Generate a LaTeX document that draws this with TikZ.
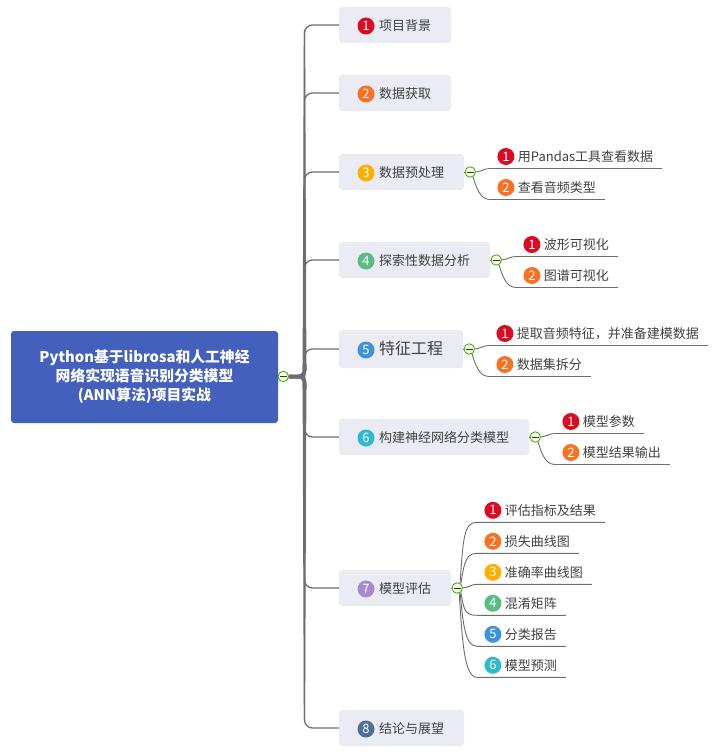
\documentclass[tikz,border=0pt]{standalone}
\usepackage{fontspec}
\setmainfont{Noto Sans CJK SC}
\usetikzlibrary{positioning}
\definecolor{rootblue}{HTML}{4360BC}
\definecolor{boxgray}{HTML}{EAEBF3}
\definecolor{inkgray}{HTML}{404040}
\definecolor{linegray}{HTML}{6E6E6E}
\definecolor{badgered}{HTML}{DA0B22}
\definecolor{badgeorange}{HTML}{F97122}
\definecolor{badgeamber}{HTML}{FFAE00}
\definecolor{badgegreen}{HTML}{59BC83}
\definecolor{badgeblue}{HTML}{3B94D8}
\definecolor{badgecyan}{HTML}{2DB9CE}
\definecolor{badgepurple}{HTML}{A58CCF}
\definecolor{badgeslate}{HTML}{4F7096}
\tikzstyle{rootbox}=[rectangle, rounded corners=3pt, fill=rootblue, text=white, align=center,
        minimum width=267pt, minimum height=92pt, font=\fontsize{14.8}{19}\selectfont\bfseries]
\tikzstyle{topic}=[rectangle, rounded corners=3pt, fill=boxgray, text=inkgray, anchor=north west, outer sep=0pt,
        minimum height=36pt, inner ysep=0pt, inner xsep=0pt, align=left, text height=12pt, text depth=1pt,
        font=\fontsize{13}{16}\selectfont]
\tikzstyle{subtopic}=[rectangle, text=inkgray, minimum height=24pt, inner ysep=0pt, inner xsep=0pt, outer sep=0pt,
        font=\fontsize{13}{16}\selectfont]
\tikzstyle{badge}=[circle, inner sep=0pt, minimum size=17pt, text=white, font=\fontsize{13}{13}\selectfont]
\tikzstyle{toggle}=[circle, draw=green!50!black!70!lime, line width=0.8pt, fill=green!10!yellow!8!white, inner sep=0pt,
        minimum size=10.5pt, path picture={\draw[green!35!black, line width=0.9pt]
        ([xshift=1.5pt]path picture bounding box.west) -- ([xshift=-1.5pt]path picture bounding box.east);}]
\tikzstyle{branch}=[draw=linegray, line width=1.3pt, rounded corners=8pt]
\tikzstyle{twig}=[draw=linegray, line width=0.9pt]
\tikzstyle{hubline}=[draw=linegray, line width=4pt, rounded corners=6pt]

\begin{document}
\begin{tikzpicture}[x=1pt, y=-1pt]
        \useasboundingbox (0,0) rectangle (720,754);

        % root and its joint
        \node (root) [rootbox] at (144.5,377)
        {
          Python基于librosa和人工神经\\
          网络实现语音识别分类模型\\
          (ANN算法)项目实战
        };
        \node (rootc) [toggle] at (283.3,376.5) {};
        \coordinate (hub) at (304.5,376.5);
        \coordinate (hubup) at (304.5,364);
        \coordinate (hubdown) at (304.5,389);

        % main topics
        \node (t1) [topic, text width=112pt] at (339,7) {\hspace*{40pt}项目背景};
        \node (t2) [topic, text width=112pt, below=32pt of t1.south west, anchor=north west] {\hspace*{40pt}数据获取};
        \node (t3) [topic, text width=125pt, below=43pt of t2.south west, anchor=north west] {\hspace*{40pt}数据预处理};
        \node (t4) [topic, text width=151pt, below=52pt of t3.south west, anchor=north west] {\hspace*{40pt}探索性数据分析};
        \node (t5) [topic, text width=124pt, below=52pt of t4.south west, anchor=north west, minimum height=38pt,
          font=\fontsize{16}{19}\selectfont] {\hspace*{40pt}特征工程};
        \node (t6) [topic, text width=190pt, below=51pt of t5.south west, anchor=north west] {\hspace*{40pt}构建神经网络分类模型};
        \node (t7) [topic, text width=112pt, below=115pt of t6.south west, anchor=north west] {\hspace*{40pt}模型评估};
        \node (t8) [topic, text width=125pt, below=104pt of t7.south west, anchor=north west] {\hspace*{40pt}结论与展望};

        \node (b1) [badge, fill=badgered] at ([xshift=27pt,yshift=-1pt]t1.west) {1};
        \node (b2) [badge, fill=badgeorange] at ([xshift=27pt,yshift=-1pt]t2.west) {2};
        \node (b3) [badge, fill=badgeamber] at ([xshift=27pt,yshift=-1pt]t3.west) {3};
        \node (b4) [badge, fill=badgegreen] at ([xshift=27pt,yshift=-1pt]t4.west) {4};
        \node (b5) [badge, fill=badgeblue] at ([xshift=27pt,yshift=-1pt]t5.west) {5};
        \node (b6) [badge, fill=badgecyan] at ([xshift=27pt,yshift=-1pt]t6.west) {6};
        \node (b7) [badge, fill=badgepurple] at ([xshift=27pt,yshift=-1pt]t7.west) {7};
        \node (b8) [badge, fill=badgeslate] at ([xshift=27pt,yshift=-1pt]t8.west) {8};

        % joints of the topics that have children
        \node (c3) [toggle, right=0.6pt of t3.east, anchor=west] {};
        \node (c4) [toggle, right=0.6pt of t4.east, anchor=west] {};
        \node (c5) [toggle, right=0.6pt of t5.east, anchor=west] {};
        \node (c6) [toggle, right=0.6pt of t6.east, anchor=west] {};
        \node (c7) [toggle, right=0.6pt of t7.east, anchor=west] {};

        % children
        \node (s31) [subtopic, right=14pt of c3.east, anchor=south west, yshift=3.5pt] {\hspace*{28pt}用Pandas工具查看数据\hspace*{9pt}};
        \node (s32) [subtopic, below=31pt of s31.south west, anchor=south west] {\hspace*{28pt}查看音频类型\hspace*{9pt}};
        \node (s41) [subtopic, right=14pt of c4.east, anchor=south west, yshift=3.5pt] {\hspace*{28pt}波形可视化\hspace*{9pt}};
        \node (s42) [subtopic, below=31pt of s41.south west, anchor=south west] {\hspace*{28pt}图谱可视化\hspace*{9pt}};
        \node (s51) [subtopic, right=14pt of c5.east, anchor=south west, yshift=3.5pt] {\hspace*{28pt}提取音频特征，并准备建模数据\hspace*{9pt}};
        \node (s52) [subtopic, below=31pt of s51.south west, anchor=south west] {\hspace*{28pt}数据集拆分\hspace*{9pt}};
        \node (s61) [subtopic, right=14pt of c6.east, anchor=south west, yshift=3.5pt] {\hspace*{28pt}模型参数\hspace*{9pt}};
        \node (s62) [subtopic, below=31pt of s61.south west, anchor=south west] {\hspace*{28pt}模型结果输出\hspace*{9pt}};
        \node (s71) [subtopic, right=14pt of c7.east, anchor=south west, yshift=65.7pt] {\hspace*{28pt}评估指标及结果\hspace*{9pt}};
        \node (s72) [subtopic, below=31pt of s71.south west, anchor=south west] {\hspace*{28pt}损失曲线图\hspace*{9pt}};
        \node (s73) [subtopic, below=31pt of s72.south west, anchor=south west] {\hspace*{28pt}准确率曲线图\hspace*{9pt}};
        \node (s74) [subtopic, below=31pt of s73.south west, anchor=south west] {\hspace*{28pt}混淆矩阵\hspace*{9pt}};
        \node (s75) [subtopic, below=31pt of s74.south west, anchor=south west] {\hspace*{28pt}分类报告\hspace*{9pt}};
        \node (s76) [subtopic, below=31pt of s75.south west, anchor=south west] {\hspace*{28pt}模型预测\hspace*{9pt}};

        \node (m31) [badge, fill=badgered] at ([xshift=16pt]s31.west) {1};
        \node (m32) [badge, fill=badgeorange] at ([xshift=16pt]s32.west) {2};
        \node (m41) [badge, fill=badgered] at ([xshift=16pt]s41.west) {1};
        \node (m42) [badge, fill=badgeorange] at ([xshift=16pt]s42.west) {2};
        \node (m51) [badge, fill=badgered] at ([xshift=16pt]s51.west) {1};
        \node (m52) [badge, fill=badgeorange] at ([xshift=16pt]s52.west) {2};
        \node (m61) [badge, fill=badgered] at ([xshift=16pt]s61.west) {1};
        \node (m62) [badge, fill=badgeorange] at ([xshift=16pt]s62.west) {2};
        \node (m71) [badge, fill=badgered] at ([xshift=16pt]s71.west) {1};
        \node (m72) [badge, fill=badgeorange] at ([xshift=16pt]s72.west) {2};
        \node (m73) [badge, fill=badgeamber] at ([xshift=16pt]s73.west) {3};
        \node (m74) [badge, fill=badgegreen] at ([xshift=16pt]s74.west) {4};
        \node (m75) [badge, fill=badgeblue] at ([xshift=16pt]s75.west) {5};
        \node (m76) [badge, fill=badgecyan] at ([xshift=16pt]s76.west) {6};

        % trunk, narrowing away from the root
        \fill[linegray] (302.6,370) -- (303.8,30) -- (305.1,30) -- (306.4,370) -- cycle;
        \fill[linegray] (302.6,383) -- (303.8,720) -- (305.1,720) -- (306.4,383) -- cycle;
        \draw[hubline] (rootc.east) -| (hubup);
        \draw[hubline] (rootc.east) -| (hubdown);

        \draw[branch] (hub) |- (t1);
        \draw[branch] (hub) |- (t2);
        \draw[branch] (hub) |- (t3);
        \draw[branch] (hub) |- (t4);
        \draw[branch] (hub) |- (t5);
        \draw[branch] (hub) |- (t6);
        \draw[branch] (hub) |- (t7);
        \draw[branch] (hub) |- (t8);

        \draw[twig] (t3) -- (c3);
        \draw[twig] (t4) -- (c4);
        \draw[twig] (t5) -- (c5);
        \draw[twig] (t6) -- (c6);
        \draw[twig] (t7) -- (c7);

        \draw[twig] (c3.east) to[out=5,in=180] (s31.south west) -- (s31.south east);
        \draw[twig] (c3.-60) .. controls +(3,10) and +(-10,0) .. (s32.south west) -- (s32.south east);
        \draw[twig] (c4.east) to[out=5,in=180] (s41.south west) -- (s41.south east);
        \draw[twig] (c4.-60) .. controls +(3,10) and +(-10,0) .. (s42.south west) -- (s42.south east);
        \draw[twig] (c5.east) to[out=5,in=180] (s51.south west) -- (s51.south east);
        \draw[twig] (c5.-60) .. controls +(3,10) and +(-10,0) .. (s52.south west) -- (s52.south east);
        \draw[twig] (c6.east) to[out=5,in=180] (s61.south west) -- (s61.south east);
        \draw[twig] (c6.-60) .. controls +(3,10) and +(-10,0) .. (s62.south west) -- (s62.south east);
        \draw[twig] (c7.60) .. controls +(3,-45) and +(-13,0) .. (s71.south west) -- (s71.south east);
        \draw[twig] (c7.50) .. controls +(3,-18) and +(-12,0) .. (s72.south west) -- (s72.south east);
        \draw[twig] (c7.east) to[out=5,in=180] (s73.south west) -- (s73.south east);
        \draw[twig] (c7.-50) .. controls +(3,18) and +(-12,0) .. (s74.south west) -- (s74.south east);
        \draw[twig] (c7.-60) .. controls +(3,30) and +(-12,0) .. (s75.south west) -- (s75.south east);
        \draw[twig] (c7.-70) .. controls +(3,45) and +(-13,0) .. (s76.south west) -- (s76.south east);
      \end{tikzpicture}
\end{document}
